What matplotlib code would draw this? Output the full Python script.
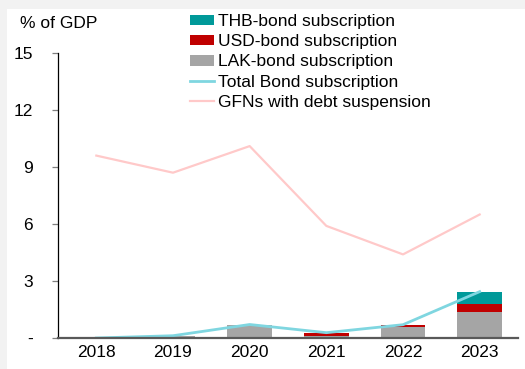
import matplotlib
matplotlib.use("Agg")
import matplotlib.pyplot as plt
from matplotlib.patches import Rectangle
import numpy as np

plt.rcParams['font.family'] = ['Liberation Sans', 'DejaVu Sans']

years = ["2018", "2019", "2020", "2021", "2022", "2023"]
lak_bond = [0.0, 0.12, 0.68, 0.08, 0.60, 1.38]
usd_bond = [0.0, 0.0, 0.03, 0.20, 0.10, 0.41]
thb_bond = [0.0, 0.0, 0.0, 0.0, 0.0, 0.65]
gfn_suspension = [9.6, 8.7, 10.1, 5.9, 4.4, 6.5]
y_ticks = [0, 3, 6, 9, 12, 15]
y_tick_labels = ["-", "3", "6", "9", "12", "15"]

total_bond = [a + b + c for a, b, c in zip(lak_bond, usd_bond, thb_bond)]

W, H = 525, 369
FS = 12.5
fig = plt.figure(figsize=(W / 100, H / 100), dpi=100, facecolor="#f2f2f2")
fig.patches.append(Rectangle((7 / W, 0), 1 - 7 / W, 1 - 9 / H,
                             transform=fig.transFigure, facecolor="white",
                             edgecolor="none", zorder=-10))

ax = fig.add_axes([58 / W, 31 / H, 460 / W, 285 / H])
ax.set_facecolor("none")

x = np.arange(len(years))
bw = 0.58
c_lak, c_usd, c_thb = "#a5a5a5", "#c00000", "#009999"
c_total, c_gfn = "#7fd6e0", "#ffc9c9"

lak = np.array(lak_bond)
usd = np.array(usd_bond)
thb = np.array(thb_bond)
h_thb = ax.bar(x, thb, bw, bottom=lak + usd, color=c_thb, zorder=2)
h_usd = ax.bar(x, usd, bw, bottom=lak, color=c_usd, zorder=2)
h_lak = ax.bar(x, lak, bw, color=c_lak, zorder=2)
h_tot, = ax.plot(x, total_bond, color=c_total, lw=2.0, zorder=3)
h_gfn, = ax.plot(x, gfn_suspension, color=c_gfn, lw=1.6, zorder=3)

ax.set_xlim(-0.5, len(years) - 0.5)
ax.set_ylim(0, 15)
ax.set_yticks(y_ticks)
ax.set_yticklabels(y_tick_labels)
ax.set_xticks(x)
ax.set_xticklabels(years)

for s in ["top", "right"]:
    ax.spines[s].set_visible(False)
ax.spines["left"].set_color("black")
ax.spines["left"].set_linewidth(0.9)
ax.spines["bottom"].set_color("#595959")
ax.spines["bottom"].set_linewidth(1.6)
ax.spines["bottom"].set_zorder(4)

ax.tick_params(axis="y", direction="out", length=4, width=0.9, color="#7f7f7f",
               labelsize=FS, pad=14, labelcolor="black")
ax.tick_params(axis="x", length=0, labelsize=FS, pad=5, labelcolor="black")

fig.text(20 / W, 1 - 23 / H, "% of GDP", fontsize=FS, va="center", ha="left")

fig.legend([h_thb, h_usd, h_lak, h_tot, h_gfn],
           ["THB-bond subscription", "USD-bond subscription", "LAK-bond subscription",
            "Total Bond subscription", "GFNs with debt suspension"],
           loc="upper left", bbox_to_anchor=(190 / W, 1 - 14 / H),
           frameon=False, fontsize=FS, handlelength=1.4, handleheight=0.55,
           handletextpad=0.2, labelspacing=0.3, borderpad=0.0,
           borderaxespad=0)

fig.savefig("out.png", dpi=100, facecolor=fig.get_facecolor())
